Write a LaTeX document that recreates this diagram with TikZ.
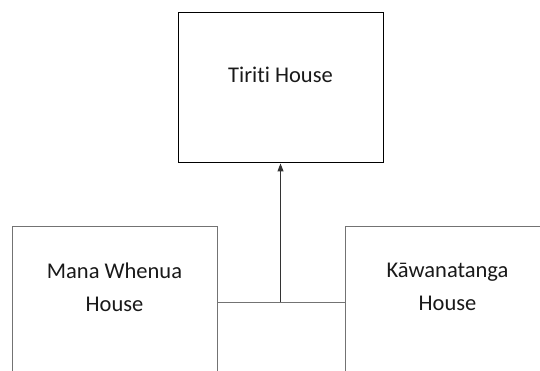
\documentclass[tikz,border=0pt]{standalone}
\usepackage{fontspec}
\setmainfont{Carlito}[Ligatures=NoCommon]
\usetikzlibrary{arrows.meta}
\usetikzlibrary{positioning}

\begin{document}
\begin{tikzpicture}[x=1pt,y=-1pt,
                house/.style={rectangle, draw, line width=1pt, minimum width=205pt, minimum height=150pt, inner sep=0pt},
                lowhouse/.style={house, draw=black!55},
                label/.style={font=\fontsize{22.5}{33}\selectfont, align=center, inner sep=0pt, text=black!90},
                link/.style={draw, line width=1pt, black!55},
                arrow/.style={draw, line width=1pt, black!80, -{Triangle[length=8pt,width=6pt]}}
            ]
            \useasboundingbox (0,0) rectangle (540,371);
            \clip (0,0) rectangle (540,371);
            \node[house] (tiriti) at (280.5,88) {};
            \node[lowhouse] (mana) at (114.5,302) {};
            \node[lowhouse] (kawa) at (447.5,302) {};
            \node[label, below=54pt of tiriti.north] (tiritiText) {Tiriti House};
            \node[label, below=36pt of mana.north] (manaText) {Mana Whenua\\House};
            \node[label, below=36pt of kawa.north] (kawaText) {Kāwanatanga\\House};
            \coordinate (join) at (tiriti.south |- mana.east);
            \path[link] (mana.east) -- (kawa.west);
            \path[arrow] (join) -- (tiriti.south);
        \end{tikzpicture}
\end{document}
